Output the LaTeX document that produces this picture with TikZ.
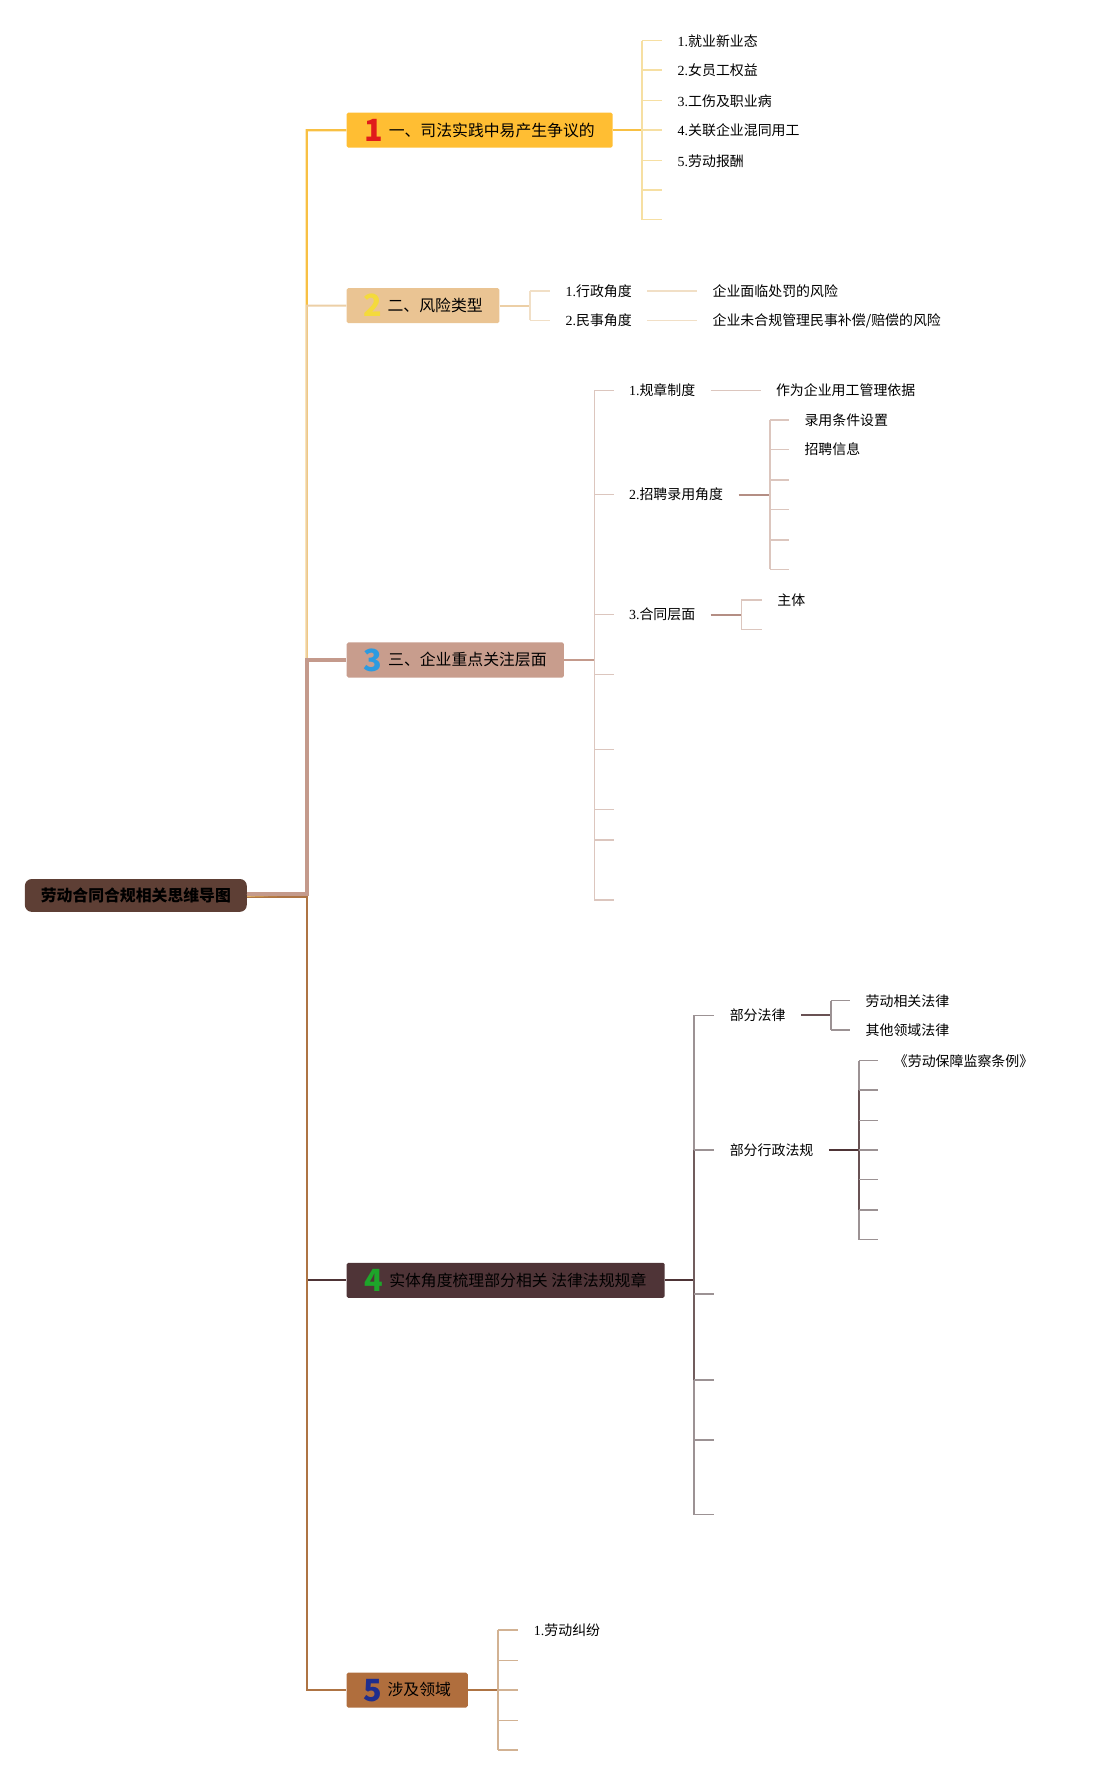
\documentclass[tikz,border=0pt]{standalone}
\usepackage{fontspec}
\setmainfont{Liberation Serif}
\newfontfamily\cjk{Noto Sans CJK SC}
\usetikzlibrary{positioning}

\definecolor{rootfill}{HTML}{5E3F35}
\definecolor{onefill}{HTML}{FFBE33}
\definecolor{twofill}{HTML}{EAC493}
\definecolor{threefill}{HTML}{C89D8D}
\definecolor{fourfill}{HTML}{4F3437}
\definecolor{fivefill}{HTML}{B06E3D}
\definecolor{onenum}{HTML}{E01B1B}
\definecolor{twonum}{HTML}{F4DA3C}
\definecolor{threenum}{HTML}{2C9BE0}
\definecolor{fournum}{HTML}{1EA52A}
\definecolor{fivenum}{HTML}{1F2E8E}
\definecolor{oneline}{HTML}{F8C043}
\definecolor{onelite}{HTML}{F6DFA2}
\definecolor{twoline}{HTML}{ECCFA6}
\definecolor{twolite}{HTML}{F1DFC6}
\definecolor{threeline}{HTML}{C49A8C}
\definecolor{threedark}{HTML}{B48E84}
\definecolor{threelite}{HTML}{DCC6BE}
\definecolor{fourline}{HTML}{4E3436}
\definecolor{fourlite}{HTML}{9C9294}
\definecolor{fiveline}{HTML}{AE7444}
\definecolor{fivelite}{HTML}{D2B293}

\newcommand{\bnum}[2]{\raisebox{-4.5pt}{\color{#1}\bfseries\fontsize{27}{27}\selectfont #2}\hspace{5pt}}

\tikzset{
  topicbox/.style={rectangle, anchor=west, rounded corners=1.5pt, minimum height=31pt, inner xsep=0pt, font=\cjk\fontsize{14}{14}\selectfont},
  leaf/.style={anchor=west, inner xsep=13.5pt, inner ysep=1pt, font=\cjk\fontsize{12.3}{13}\selectfont},
  stem/.style={line width=1.7pt},
  twig/.style={line width=1.3pt},
}

\begin{document}
\begin{tikzpicture}[x=1pt, y=-1pt]
  \useasboundingbox (0,0) rectangle (966,1568);

  \node[rectangle, rounded corners=6pt, fill=rootfill, minimum width=196pt, minimum height=29pt,
        font=\cjk\bfseries\fontsize{14}{14}\selectfont] (root) at (120,791) {劳动合同合规相关思维导图};

  \node[topicbox, fill=onefill, minimum width=235pt] (b1) at (306,115) {\bnum{onenum}{1}一、司法实践中易产生争议的};
  \node[topicbox, fill=twofill, minimum width=135pt] (b2) at (306,270) {\bnum{twonum}{2}二、风险类型};
  \node[topicbox, fill=threefill, minimum width=192pt] (b3) at (306,583) {\bnum{threenum}{3}三、企业重点关注层面};
  \node[topicbox, fill=fourfill, minimum width=281pt] (b4) at (306,1131) {\bnum{fournum}{4}实体角度梳理部分相关 法律法规规章};
  \node[topicbox, fill=fivefill, minimum width=107pt] (b5) at (306,1493) {\bnum{fivenum}{5}涉及领域};

  % trunk
  \coordinate (tr) at (271,790);
  \coordinate (tr3) at (271,789.5);
  \coordinate (tr5) at (271,792.5);
  \draw[stem, fourline] ([yshift=-1.5pt]root.east) -- (tr5) |- (b4.west);
  \draw[stem, fiveline] ([yshift=-1.5pt]root.east) -- (tr5) |- (b5.west);
  \draw[line width=2pt, oneline] (root.east) -- (tr) |- (b1.west);
  \draw[stem, twoline] (root.east) -- (tr) |- (b2.west);
  \draw[line width=3.6pt, threeline] ([yshift=1.5pt]root.east) -- (tr3) |- (b3.west);

  % 1
  \coordinate (k1) at (567,115);
  \draw[stem, oneline] (b1.east) -- (k1);
  \foreach \y/\n/\t in {36/1/就业新业态, 62/2/女员工权益, 89/3/工伤及职业病, 115/4/关联企业混同用工, 142/5/劳动报酬}
    \node[leaf] (c1\n) at (585,\y) {{\rmfamily\n.}\t};
  \foreach \y [count=\i] in {168,194} \coordinate (e1\i) at (585,\y);
  \draw[twig, onelite] (k1 |- c11) -- (k1 |- e12);
  \foreach \n in {1,...,5} \draw[twig, onelite] (k1 |- c1\n) -- (c1\n.west);
  \foreach \n in {1,2} \draw[twig, onelite] (k1 |- e1\n) -- (e1\n);

  % 2
  \coordinate (k2) at (468,270);
  \draw[stem, twoline] (b2.east) -- (k2);
  \node[leaf] (c21) at (486,257) {{\rmfamily 1.}行政角度};
  \node[leaf] (c22) at (486,283) {{\rmfamily 2.}民事角度};
  \node[leaf, right=44pt of c21] (c211) {企业面临处罚的风险};
  \node[leaf, right=44pt of c22] (c221) {企业未合规管理民事补偿/赔偿的风险};
  \draw[twig, twolite] (k2 |- c21) -- (k2 |- c22);
  \foreach \n in {c21,c22} \draw[twig, twolite] (k2 |- \n) -- (\n.west);
  \draw[twig, twolite] (c21) -- (c211);
  \draw[twig, twolite] (c22) -- (c221);

  % 3
  \coordinate (k3) at (525,583);
  \draw[stem, threeline] (b3.east) -- (k3);
  \node[leaf] (c31) at (542,345) {{\rmfamily 1.}规章制度};
  \node[leaf] (c32) at (542,437) {{\rmfamily 2.}招聘录用角度};
  \node[leaf] (c33) at (542,543) {{\rmfamily 3.}合同层面};
  \foreach \y [count=\i] in {596,662,715,742,795} \coordinate (e3\i) at (542,\y);
  \draw[twig, threelite] (k3 |- c31) -- (k3 |- e35);
  \foreach \n in {c31,c32,c33} \draw[twig, threelite] (k3 |- \n) -- (\n.west);
  \foreach \n in {1,...,5} \draw[twig, threelite] (k3 |- e3\n) -- (e3\n);

  \node[leaf, right=44pt of c31] (c311) {作为企业用工管理依据};
  \draw[twig, threelite] (c31) -- (c311);

  \coordinate (k32) at (680,437);
  \draw[stem, threedark] (c32) -- (k32);
  \node[leaf] (c321) at (697,371) {录用条件设置};
  \node[leaf] (c322) at (697,397) {招聘信息};
  \foreach \y [count=\i] in {424,450,477,503} \coordinate (e32\i) at (697,\y);
  \draw[twig, threelite] (k32 |- c321) -- (k32 |- e324);
  \foreach \n in {c321,c322} \draw[twig, threelite] (k32 |- \n) -- (\n.west);
  \foreach \n in {1,...,4} \draw[twig, threelite] (k32 |- e32\n) -- (e32\n);

  \coordinate (k33) at (655,543);
  \draw[stem, threedark] (c33) -- (k33);
  \node[leaf] (c331) at (673,530) {主体};
  \coordinate (e331) at (673,556);
  \draw[twig, threelite] (k33 |- c331) -- (k33 |- e331);
  \draw[twig, threelite] (k33 |- c331) -- (c331.west);
  \draw[twig, threelite] (k33 |- e331) -- (e331);

  % 4
  \coordinate (k4) at (613,1131);
  \draw[stem, fourline] (b4.east) -- (k4);
  \node[leaf] (c41) at (631,897) {部分法律};
  \node[leaf] (c42) at (631,1016) {部分行政法规};
  \foreach \y [count=\i] in {1143,1219,1272,1338} \coordinate (e4\i) at (631,\y);
  \draw[twig, fourlite] (k4 |- c41) -- (k4 |- e44);
  \draw[twig, fourline!80] (k4 |- c42) -- (k4 |- e42);
  \foreach \n in {c41,c42} \draw[twig, fourlite] (k4 |- \n) -- (\n.west);
  \foreach \n in {1,...,4} \draw[twig, fourlite] (k4 |- e4\n) -- (e4\n);

  \coordinate (k41) at (734,897);
  \draw[stem, fourline!85] (c41) -- (k41);
  \node[leaf] (c411) at (751,884) {劳动相关法律};
  \node[leaf] (c412) at (751,910) {其他领域法律};
  \draw[twig, fourlite] (k41 |- c411) -- (k41 |- c412);
  \foreach \n in {c411,c412} \draw[twig, fourlite] (k41 |- \n) -- (\n.west);

  \coordinate (k42) at (759,1016);
  \draw[stem, fourline] (c42) -- (k42);
  \node[leaf] (c421) at (776,937) {《劳动保障监察条例》};
  \foreach \y [count=\i] in {963,990,1016,1042,1069,1095} \coordinate (e42\i) at (776,\y);
  \draw[twig, fourlite] (k42 |- c421) -- (k42 |- e426);
  \draw[twig, fourline!85] (k42 |- e421) -- (k42 |- e425);
  \draw[twig, fourlite] (k42 |- c421) -- (c421.west);
  \foreach \n in {1,...,6} \draw[twig, fourlite] (k42 |- e42\n) -- (e42\n);

  % 5
  \coordinate (k5) at (440,1493);
  \draw[stem, fiveline] (b5.east) -- (k5);
  \node[leaf] (c51) at (458,1440) {{\rmfamily 1.}劳动纠纷};
  \foreach \y [count=\i] in {1467,1493,1520,1546} \coordinate (e5\i) at (458,\y);
  \draw[twig, fivelite] (k5 |- c51) -- (k5 |- e54);
  \draw[twig, fivelite] (k5 |- c51) -- (c51.west);
  \foreach \n in {1,...,4} \draw[twig, fivelite] (k5 |- e5\n) -- (e5\n);
\end{tikzpicture}
\end{document}
